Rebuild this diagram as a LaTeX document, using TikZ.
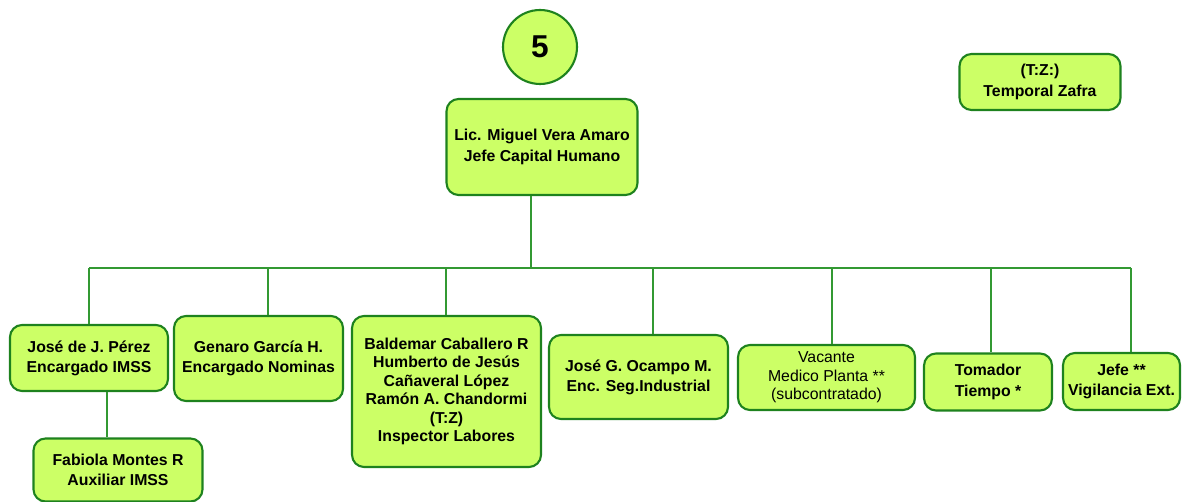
\documentclass[tikz,border=0pt]{standalone}
\usepackage{fontspec}
\setmainfont{Liberation Sans}
\usepackage{xcolor}
\usetikzlibrary{positioning}

\definecolor{boxfill}{RGB}{204,255,102}
\definecolor{boxline}{RGB}{30,130,30}
\definecolor{linkline}{RGB}{51,153,51}

\begin{document}
\begin{tikzpicture}[
    x=0.02cm, y=-0.02cm,
    every node/.style={align=center, inner sep=1pt},
    unit/.style={draw=boxline, fill=boxfill, rounded corners=0.24cm,
                 line width=1.2pt,
                 font=\fontsize{9}{11.5}\selectfont\bfseries},
    badge/.style={draw=boxline, fill=boxfill, circle, line width=1.2pt,
                  minimum size=1.48cm,
                  font=\fontsize{18}{20}\selectfont\bfseries},
    link/.style={draw=linkline, line width=1.1pt},
  ]
  \useasboundingbox (0,0) rectangle (1182,502);

  %% --- bus row and drop positions ------------------------------------------
  \def\yBus{268}

  %% --- header ---------------------------------------------------------------
  \node[badge] (five) at (540,47) {5};
  \node[unit, minimum width=3.82cm, minimum height=1.92cm] (chief) at (542,147)
        {Lic. Miguel Vera Amaro\\Jefe Capital  Humano};
  \node[unit, minimum width=3.22cm, minimum height=1.12cm] (tz) at (1040,82)
        {(T:Z:)\\Temporal Zafra};

  %% --- staff row ------------------------------------------------------------
  \node[unit, minimum width=3.16cm, minimum height=1.32cm] (jose) at (89,358)
        {José de J. Pérez\\Encargado IMSS};
  \node[unit, minimum width=3.38cm, minimum height=1.70cm] (genaro) at (258.5,358.5)
        {Genaro García H.\\Encargado Nominas};
  \node[unit, minimum width=3.78cm, minimum height=3.02cm,
        font=\fontsize{9}{10.5}\selectfont\bfseries] (baldemar) at (446.5,391.5)
        {Baldemar Caballero  R\\Humberto de Jesús\\Cañaveral López\\Ramón A. Chandormi\\(T:Z)\\Inspector Labores};
  \node[unit, minimum width=3.58cm, minimum height=1.68cm] (ocampo) at (638.5,377)
        {José G. Ocampo M.\\Enc. Seg.Industrial};
  \node[unit, minimum width=3.54cm, minimum height=1.30cm,
        font=\fontsize{9}{10.5}\selectfont] (vacante) at (826.5,377.5)
        {Vacante\\Medico Planta **\\(subcontratado)};
  \node[unit, minimum width=2.56cm, minimum height=1.14cm] (tomador) at (988,382)
        {Tomador\\Tiempo *};
  \node[unit, minimum width=2.34cm, minimum height=1.14cm] (jefe) at (1121.5,381.5)
        {Jefe **\\Vigilancia Ext.};

  %% --- sub level ------------------------------------------------------------
  \node[unit, minimum width=3.38cm, minimum height=1.26cm] (fabiola) at (118,470)
        {Fabiola Montes  R\\Auxiliar IMSS};

  %% --- connectors -----------------------------------------------------------
  \coordinate (bus) at (531,\yBus);
  \coordinate (busL) at (89,\yBus);
  \coordinate (busR) at (1131,\yBus);
  \draw[link] (bus |- chief.south) -- (bus);
  \draw[link] (busL) -- (busR);

  \foreach \n/\x in {jose/89, genaro/268, baldemar/446, ocampo/653,
                     vacante/832, tomador/991, jefe/1131}{
    \coordinate (d\n) at (\x,\yBus);
    \draw[link] (d\n) -- (d\n |- \n.north);
  }

  \coordinate (fabtop) at ([xshift=0.36cm]jose.south);
  \draw[link] (fabtop) -- (fabtop |- fabiola.north);

\end{tikzpicture}
\end{document}
